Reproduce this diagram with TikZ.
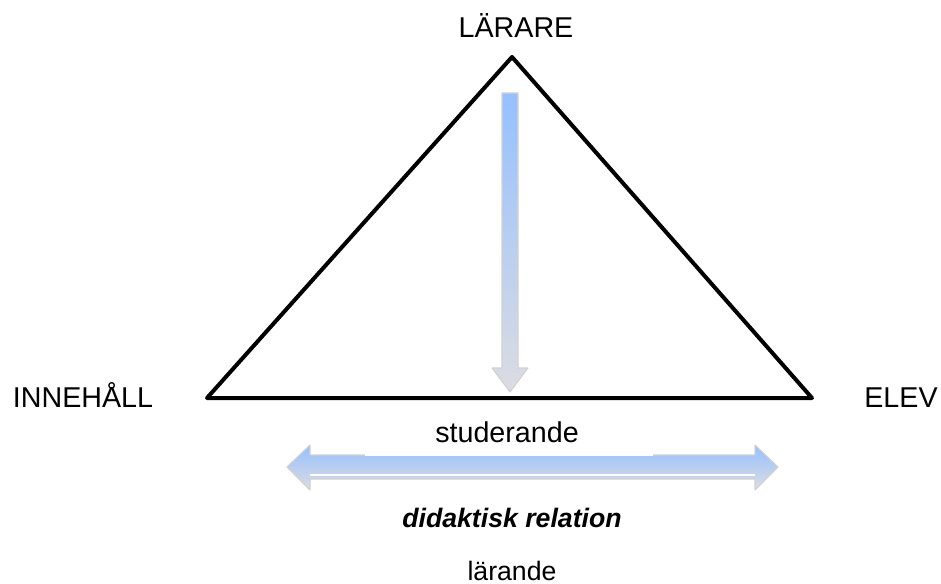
\documentclass[tikz,border=0pt]{standalone}
\usepackage{fontspec}
\setmainfont{Liberation Sans}
\definecolor{arrowblue}{RGB}{150,192,255}
\definecolor{arrowgray}{RGB}{220,220,226}
\begin{document}
\begin{tikzpicture}[x=0.75pt,y=-0.75pt,line width=3pt,line join=round,font=\fontsize{20}{24}\selectfont]
\tikzset{label/.style={anchor=base,inner sep=0pt},
  big/.style={font=\fontsize{21.5}{26}\selectfont},
  blockarrow/.style={draw=black!18,line width=.8pt,top color=arrowblue,bottom color=arrowgray}}
\useasboundingbox (0,0) rectangle (941,584);
\coordinate (L) at (512,57);
\coordinate (I) at (207,398);
\coordinate (E) at (812,398);
\draw (L)--(E)--(I)--cycle;
\draw[blockarrow] (502,93)--(518,93)--(518,368)--(528,368)--(510,392)--(492,368)--(502,368)--cycle;
\draw[blockarrow] (287,467)--(310,445)--(310,455)--(755,455)--(755,445)--(778,467)--(755,490)--(755,479)--(310,479)--(310,490)--cycle;
\draw[white,line width=1pt] (310,475)--(755,475);
\node[fill=white,minimum width=216pt,minimum height=29pt,inner sep=0pt] (stud) at (509,437) {};
\node[label,big] (lar) at (516,38) {LÄRARE};
\node[label,big] (inn) at (83,407) {INNEHÅLL};
\node[label,big] (elev) at (901,407) {ELEV};
\node[label,big] (studtext) at (507,442) {studerande};
\node[label] (did) at (512,527) {\bfseries\itshape didaktisk relation};
\node[label] (lrd) at (512,580) {lärande};
\end{tikzpicture}
\end{document}
